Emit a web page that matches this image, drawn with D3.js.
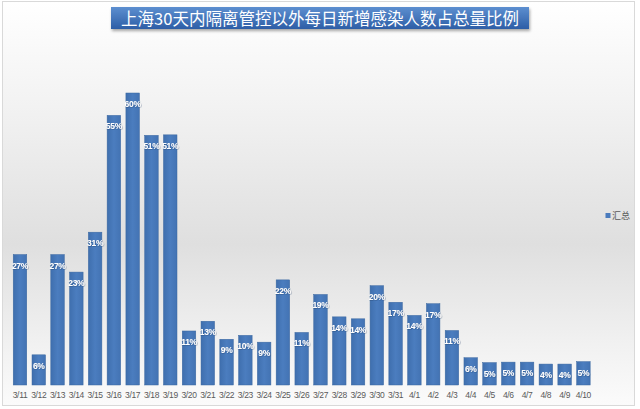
<!DOCTYPE html>
<html>
<head>
<meta charset="utf-8">
<script src="https://cdn.jsdelivr.net/npm/d3@7"></script>
<style>
  html, body { margin: 0; padding: 0; background: #ffffff; }
  svg { display: block; }
</style>
</head>
<body>
<svg id="chart" width="640" height="409"></svg>
<script>
const title = "上海30天内隔离管控以外每日新增感染人数占总量比例";
const seriesName = "汇总";
const categories = ["3/11","3/12","3/13","3/14","3/15","3/16","3/17","3/18","3/19","3/20",
  "3/21","3/22","3/23","3/24","3/25","3/26","3/27","3/28","3/29","3/30","3/31",
  "4/1","4/2","4/3","4/4","4/5","4/6","4/7","4/8","4/9","4/10"];
const values = [26.8, 6.2, 26.8, 23.2, 31.4, 55.4, 60.0, 51.3, 51.4, 11.1,
  13.1, 9.4, 10.2, 8.8, 21.6, 10.8, 18.6, 14.0, 13.6, 20.4, 17.0,
  14.3, 16.7, 11.2, 5.6, 4.6, 4.7, 4.7, 4.3, 4.3, 4.8];

const W = 640, H = 409;
const svg = d3.select("#chart");
const defs = svg.append("defs");

// background gradient
const bg = defs.append("linearGradient").attr("id","bg").attr("x1",0).attr("y1",0).attr("x2",0).attr("y2",1);
bg.append("stop").attr("offset","0%").attr("stop-color","#ffffff");
bg.append("stop").attr("offset","30%").attr("stop-color","#f0f0f0");
bg.append("stop").attr("offset","60%").attr("stop-color","#dfdfdf");
bg.append("stop").attr("offset","85%").attr("stop-color","#f1f1f1");
bg.append("stop").attr("offset","100%").attr("stop-color","#fbfbfb");

const tg = defs.append("linearGradient").attr("id","tg").attr("x1",0).attr("y1",0).attr("x2",0).attr("y2",1);
tg.append("stop").attr("offset","0%").attr("stop-color","#5d8fd0");
tg.append("stop").attr("offset","100%").attr("stop-color","#2d5ea6");

const barg = defs.append("linearGradient").attr("id","barg").attr("x1",0).attr("y1",0).attr("x2",1).attr("y2",0);
barg.append("stop").attr("offset","0%").attr("stop-color","#3f6fae");
barg.append("stop").attr("offset","50%").attr("stop-color","#4b7dbf");
barg.append("stop").attr("offset","100%").attr("stop-color","#4373b3");

const sh = defs.append("filter").attr("id","sh").attr("x","-10%").attr("y","-30%").attr("width","120%").attr("height","180%");
sh.append("feDropShadow").attr("dx",1).attr("dy",2).attr("stdDeviation",1.5).attr("flood-color","#000").attr("flood-opacity",0.35);

const ts = defs.append("filter").attr("id","ts").attr("x","-20%").attr("y","-20%").attr("width","140%").attr("height","140%");
ts.append("feDropShadow").attr("dx",0.5).attr("dy",0.5).attr("stdDeviation",0.5).attr("flood-color","#1f3a66").attr("flood-opacity",0.6);

svg.append("rect").attr("x",0).attr("y",0).attr("width",W).attr("height",H).attr("fill","#ffffff");
svg.append("rect").attr("x",2.5).attr("y",1.5).attr("width",632).attr("height",404)
  .attr("fill","url(#bg)").attr("stroke","#d9d9d9").attr("stroke-width",1);

// scales
const x = d3.scaleBand().domain(categories).range([10.6, 592.8]).paddingInner(0.28).paddingOuter(0.14);
const y = d3.scaleLinear().domain([0, 60]).range([385, 93]);

// bars
const g = svg.append("g");
g.selectAll("rect.bar").data(values).join("rect")
  .attr("class","bar")
  .attr("x",(d,i)=>x(categories[i]))
  .attr("y",d=>y(d))
  .attr("width",x.bandwidth())
  .attr("height",d=>y(0)-y(d))
  .attr("fill","url(#barg)")
  .attr("stroke","#3a679f")
  .attr("stroke-width",0.5);

// value labels
g.selectAll("text.lbl").data(values).join("text")
  .attr("class","lbl")
  .attr("x",(d,i)=>x(categories[i]) + x.bandwidth()/2)
  .attr("y",d=>y(d) + 14)
  .attr("text-anchor","middle")
  .attr("font-family","'Liberation Sans', Arial, sans-serif")
  .attr("font-weight","bold")
  .attr("font-size","8.5px")
  .attr("letter-spacing","-0.3px")
  .attr("fill","#ffffff")
  .attr("filter","url(#ts)")
  .text(d=>Math.round(d)+"%");

// x axis
const xAxis = d3.axisBottom(x).tickSize(0).tickPadding(0);
const ax = svg.append("g").attr("transform","translate(0,392)").call(xAxis);
ax.select(".domain").remove();
ax.selectAll("text")
  .attr("dy","0.71em")
  .attr("font-family","'Liberation Sans', Arial, sans-serif")
  .attr("font-size","8.5px")
  .attr("letter-spacing","-0.35px")
  .attr("fill","#595959");

// legend
svg.append("rect").attr("x",605.5).attr("y",213).attr("width",5).attr("height",5).attr("fill","#4a7bbd");
svg.append("text").attr("x",612).attr("y",219)
  .attr("font-family","'Noto Sans CJK SC', sans-serif")
  .attr("font-size","9px").attr("fill","#595959").text(seriesName);

// title
svg.append("rect").attr("x",111).attr("y",7).attr("width",418).attr("height",22)
  .attr("fill","url(#tg)").attr("filter","url(#sh)");
svg.append("text").attr("x",320).attr("y",24.5).attr("text-anchor","middle")
  .attr("font-family","'Noto Sans CJK SC', sans-serif")
  .attr("font-size","16.5px").attr("fill","#ffffff").text(title);
</script>
</body>
</html>
